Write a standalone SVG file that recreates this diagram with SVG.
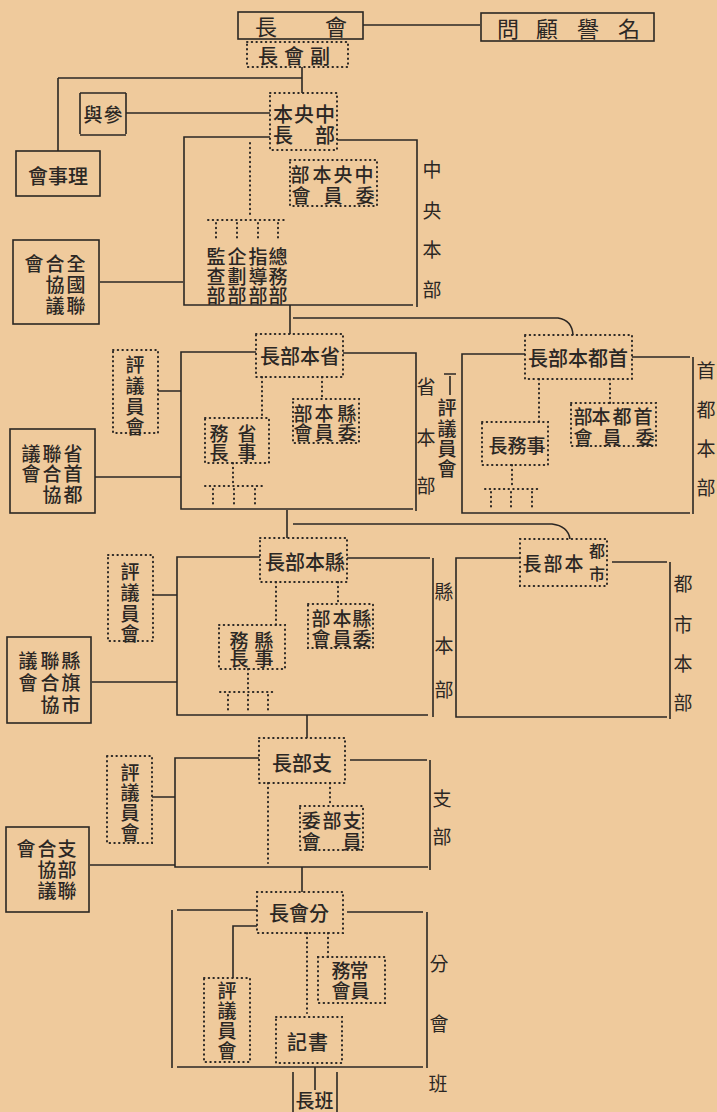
<svg xmlns="http://www.w3.org/2000/svg" width="717" height="1112" viewBox="0 0 717 1112">
<style>
.s{fill:none;stroke:#2b2724;stroke-width:1.6}
.d{fill:none;stroke:#2b2724;stroke-width:2;stroke-dasharray:0.5 4.2;stroke-linecap:round}
.t{font-family:"Noto Sans CJK TC","Noto Sans CJK SC",sans-serif;font-size:19px;font-weight:500;fill:#2b2724;text-anchor:middle;dominant-baseline:central}
.b{font-size:22px;font-weight:400}
.l{font-size:19px;font-weight:400}
.m{font-size:20px}
.sm{font-size:16px}
</style>
<rect width="717" height="1112" fill="#efca9c"/>

<g id="connectors">
<path class="s" d="M363,25 H480"/>
<path class="s" d="M302,67 V93 M58,78 H302 M58,78 V151"/>
<path class="s" d="M126,113 H270"/>
<path class="s" d="M100,282 H183"/>
<path class="s" d="M290,305 V334 M293,318 H558 Q572,320 573,335"/>
<path class="d" d="M250,143 V218 M208,220 H285 M216,223 V240 M237,223 V240 M258,223 V240 M278,223 V240"/>
<path class="s" d="M158,391 H181 M95,477 H181"/>
<path class="d" d="M262,377 V418 M322,377 V399 M233,463 V484 M205,486 H262 M213,489 V505 M234,489 V505 M255,489 V505"/>
<path class="d" d="M539,379 V422 M610,379 V403 M512,465 V487 M485,489 H540 M491,492 V508 M511,492 V508 M532,492 V508"/>
<path class="s" d="M444,374 H456 M450,376 V395"/>
<path class="s" d="M287,510 V538 M293,524 H552 Q568,526 570,539"/>
<path class="s" d="M153,595 H177 M92,682 H177"/>
<path class="d" d="M276,582 V625 M338,582 V604 M248,669 V690 M220,692 H275 M228,695 V710 M248,695 V710 M268,695 V710"/>
<path class="s" d="M307,715 V738"/>
<path class="s" d="M152,797 H175 M90,865 H175"/>
<path class="d" d="M268,783 V863 M330,783 V806"/>
<path class="s" d="M302,867 V892"/>
<path class="s" d="M257,926 H233 V978"/>
<path class="d" d="M307,933 V1013 M328,933 V957"/>
<path class="s" d="M293,1072 V1112 M337,1072 V1112 M315,1067 V1090"/>
</g>

<g id="huizhang">
<rect class="s" x="238" y="12" width="125" height="27"/>
<text class="t b" x="266 336" y="25 25">長會</text>
</g>
<g id="mingyu-guwen">
<rect class="s" x="481" y="13" width="173" height="28"/>
<text class="t b" x="508 547 588 629" y="27 27 27 27">問顧譽名</text>
</g>
<g id="fu-huizhang">
<rect class="d" x="247" y="42" width="101" height="25"/>
<text class="t m" x="268 294 320" y="55 55 55">長會副</text>
</g>
<g id="canyu">
<path class="s" d="M80,93 H126 M80,93 V134 M126,93 V134 M80,135 H126"/>
<text class="t" x="93 113" y="113 113">與參</text>
</g>
<g id="lishihui">
<rect class="s" x="16" y="151" width="84" height="45"/>
<text class="t m" x="58" y="175">會事理</text>
</g>
<g id="quanguo">
<rect class="s" x="13" y="240" width="86" height="84"/>
<text class="t" x="34 55 76 55 76 55 76" y="262 262 262 283 283 304 304">會合全協國議聯</text>
</g>

<g id="zhongyang-benbuzhang">
<rect class="d" x="270" y="93" width="67" height="57"/>
<text class="t m" x="283 304 325 283 325" y="113 113 113 134 134">本央中長部</text>
</g>
<g id="zhongyang-benbu">
<path class="s" d="M270,137 H184 V305 H413 M337,140 H417 V307"/>
<text class="t l" x="432 432 432 432" y="168 209 248 288">中央本部</text>
</g>
<g id="zhongyang-weiyuanhui">
<rect class="d" x="290" y="160" width="87" height="46"/>
<text class="t" x="300 322 343 364 301 333 365" y="173 173 173 173 194 194 194">部本央中會員委</text>
</g>
<g id="zhongyang-bumen">
<text class="t" x="216 237 258 278 216 237 258 278 216 237 258 278" y="255 255 255 255 275 275 275 275 294 294 294 294">監企指總查劃導務部部部部</text>
</g>

<g id="sheng-benbuzhang">
<rect class="d" x="256" y="334" width="87" height="43"/>
<text class="t m" x="300" y="355">長部本省</text>
</g>
<g id="sheng-benbu">
<path class="s" d="M256,352 H181 V509 H413 M343,353 H416 V511"/>
<text class="t l" x="426 426 426" y="385 436 484">省本部</text>
</g>
<g id="sheng-pingyi">
<rect class="d" x="113" y="350" width="45" height="83"/>
<text class="t" x="135 135 135 135" y="363 384 405 425">評議員會</text>
</g>
<g id="sheng-lianhe">
<rect class="s" x="10" y="429" width="85" height="84"/>
<text class="t" x="31 52 73 31 52 73 52 73" y="452 452 452 472 472 472 493 493">議聯省會合首協都</text>
</g>
<g id="sheng-shiwuzhang">
<rect class="d" x="205" y="418" width="64" height="45"/>
<text class="t" x="219 247 219 247" y="432 432 451 451">務省長事</text>
</g>
<g id="sheng-weiyuanhui">
<rect class="d" x="293" y="399" width="66" height="44"/>
<text class="t" x="303 324 347 303 324 347" y="412 412 412 431 431 431">部本縣會員委</text>
</g>

<g id="shoudu-benbuzhang">
<rect class="d" x="525" y="335" width="107" height="44"/>
<text class="t m" x="578" y="357">長部本都首</text>
</g>
<g id="shoudu-benbu">
<path class="s" d="M525,354 H462 V513 H690 M632,357 H690 M693,357 V514"/>
<text class="t l" x="706 706 706 706" y="369 408 447 486">首都本部</text>
</g>
<g id="shoudu-pingyi">
<text class="t" x="447 447 447 447" y="406 427 447 467">評議員會</text>
</g>
<g id="shoudu-shiwuzhang">
<rect class="d" x="482" y="422" width="66" height="43"/>
<text class="t" x="517" y="444">長務事</text>
</g>
<g id="shoudu-weiyuanhui">
<rect class="d" x="571" y="403" width="85" height="43"/>
<text class="t" x="583 601 622 643 583 612 645" y="415 415 415 415 436 436 436">部本都首會員委</text>
</g>

<g id="xian-benbuzhang">
<rect class="d" x="260" y="538" width="87" height="44"/>
<text class="t m" x="305" y="561">長部本縣</text>
</g>
<g id="xian-benbu">
<path class="s" d="M260,557 H177 V715 H428 M347,558 H430 M433,558 V717"/>
<text class="t l" x="444 444 444" y="590 644 688">縣本部</text>
</g>
<g id="xian-pingyi">
<rect class="d" x="108" y="555" width="45" height="86"/>
<text class="t" x="130 130 130 130" y="570 591 612 632">評議員會</text>
</g>
<g id="xian-lianhe">
<rect class="s" x="7" y="637" width="84" height="86"/>
<text class="t" x="28 50 71 28 50 71 50 71" y="659 659 659 681 681 681 703 703">議聯縣會合旗協市</text>
</g>
<g id="xian-shiwuzhang">
<rect class="d" x="219" y="625" width="66" height="44"/>
<text class="t" x="239 264 239 264" y="639 639 657 657">務縣長事</text>
</g>
<g id="xian-weiyuanhui">
<rect class="d" x="308" y="604" width="65" height="44"/>
<text class="t" x="321 342 362 321 342 362" y="617 617 617 637 637 637">部本縣會員委</text>
</g>

<g id="dushi-benbuzhang">
<rect class="d" x="520" y="539" width="87" height="47"/>
<text class="t" x="532 553 574" y="562 562 562">長部本</text>
<text class="t sm" x="597 597" y="550 573">都市</text>
</g>
<g id="dushi-benbu">
<path class="s" d="M520,558 H456 V717 H667 M612,562 H667 M670,562 V719"/>
<text class="t l" x="683 683 683 683" y="582 623 662 701">都市本部</text>
</g>

<g id="zhibuzhang">
<rect class="d" x="259" y="738" width="86" height="45"/>
<text class="t m" x="302" y="762">長部支</text>
</g>
<g id="zhibu">
<path class="s" d="M259,758 H175 V867 H428 M350,760 H427 M430,760 V870"/>
<text class="t l" x="442 442" y="797 835">支部</text>
</g>
<g id="zhibu-pingyi">
<rect class="d" x="107" y="756" width="45" height="87"/>
<text class="t" x="130 130 130 130" y="771 791 811 831">評議員會</text>
</g>
<g id="zhibu-lianhe">
<rect class="s" x="6" y="827" width="83" height="85"/>
<text class="t" x="26 47 67 47 67 47 67" y="847 847 847 868 868 889 889">會合支協部議聯</text>
</g>
<g id="zhibu-weiyuanhui">
<rect class="d" x="300" y="806" width="63" height="44"/>
<text class="t" x="311 332 352 311 352" y="819 819 819 840 840">委部支會員</text>
</g>

<g id="fenhuizhang">
<rect class="d" x="257" y="892" width="86" height="41"/>
<text class="t m" x="299" y="912">長會分</text>
</g>
<g id="fenhui">
<path class="s" d="M257,910 H177 M172,910 V1068 M177,1067 H423 M347,912 H423 M427,912 V1068"/>
<text class="t l" x="439 439 438" y="962 1022 1082">分會班</text>
</g>
<g id="fenhui-pingyi">
<rect class="d" x="204" y="978" width="46" height="84"/>
<text class="t" x="227 227 227 227" y="989 1009 1029 1049">評議員會</text>
</g>
<g id="changwu">
<rect class="d" x="318" y="957" width="67" height="46"/>
<text class="t" x="341 359 341 360" y="969 969 989 989">務常會員</text>
</g>
<g id="shuji">
<rect class="d" x="276" y="1017" width="66" height="46"/>
<text class="t m" x="297 318" y="1041 1041">記書</text>
</g>
<g id="banzhang">
<text class="t" x="305 324" y="1099 1099">長班</text>
</g>
</svg>
